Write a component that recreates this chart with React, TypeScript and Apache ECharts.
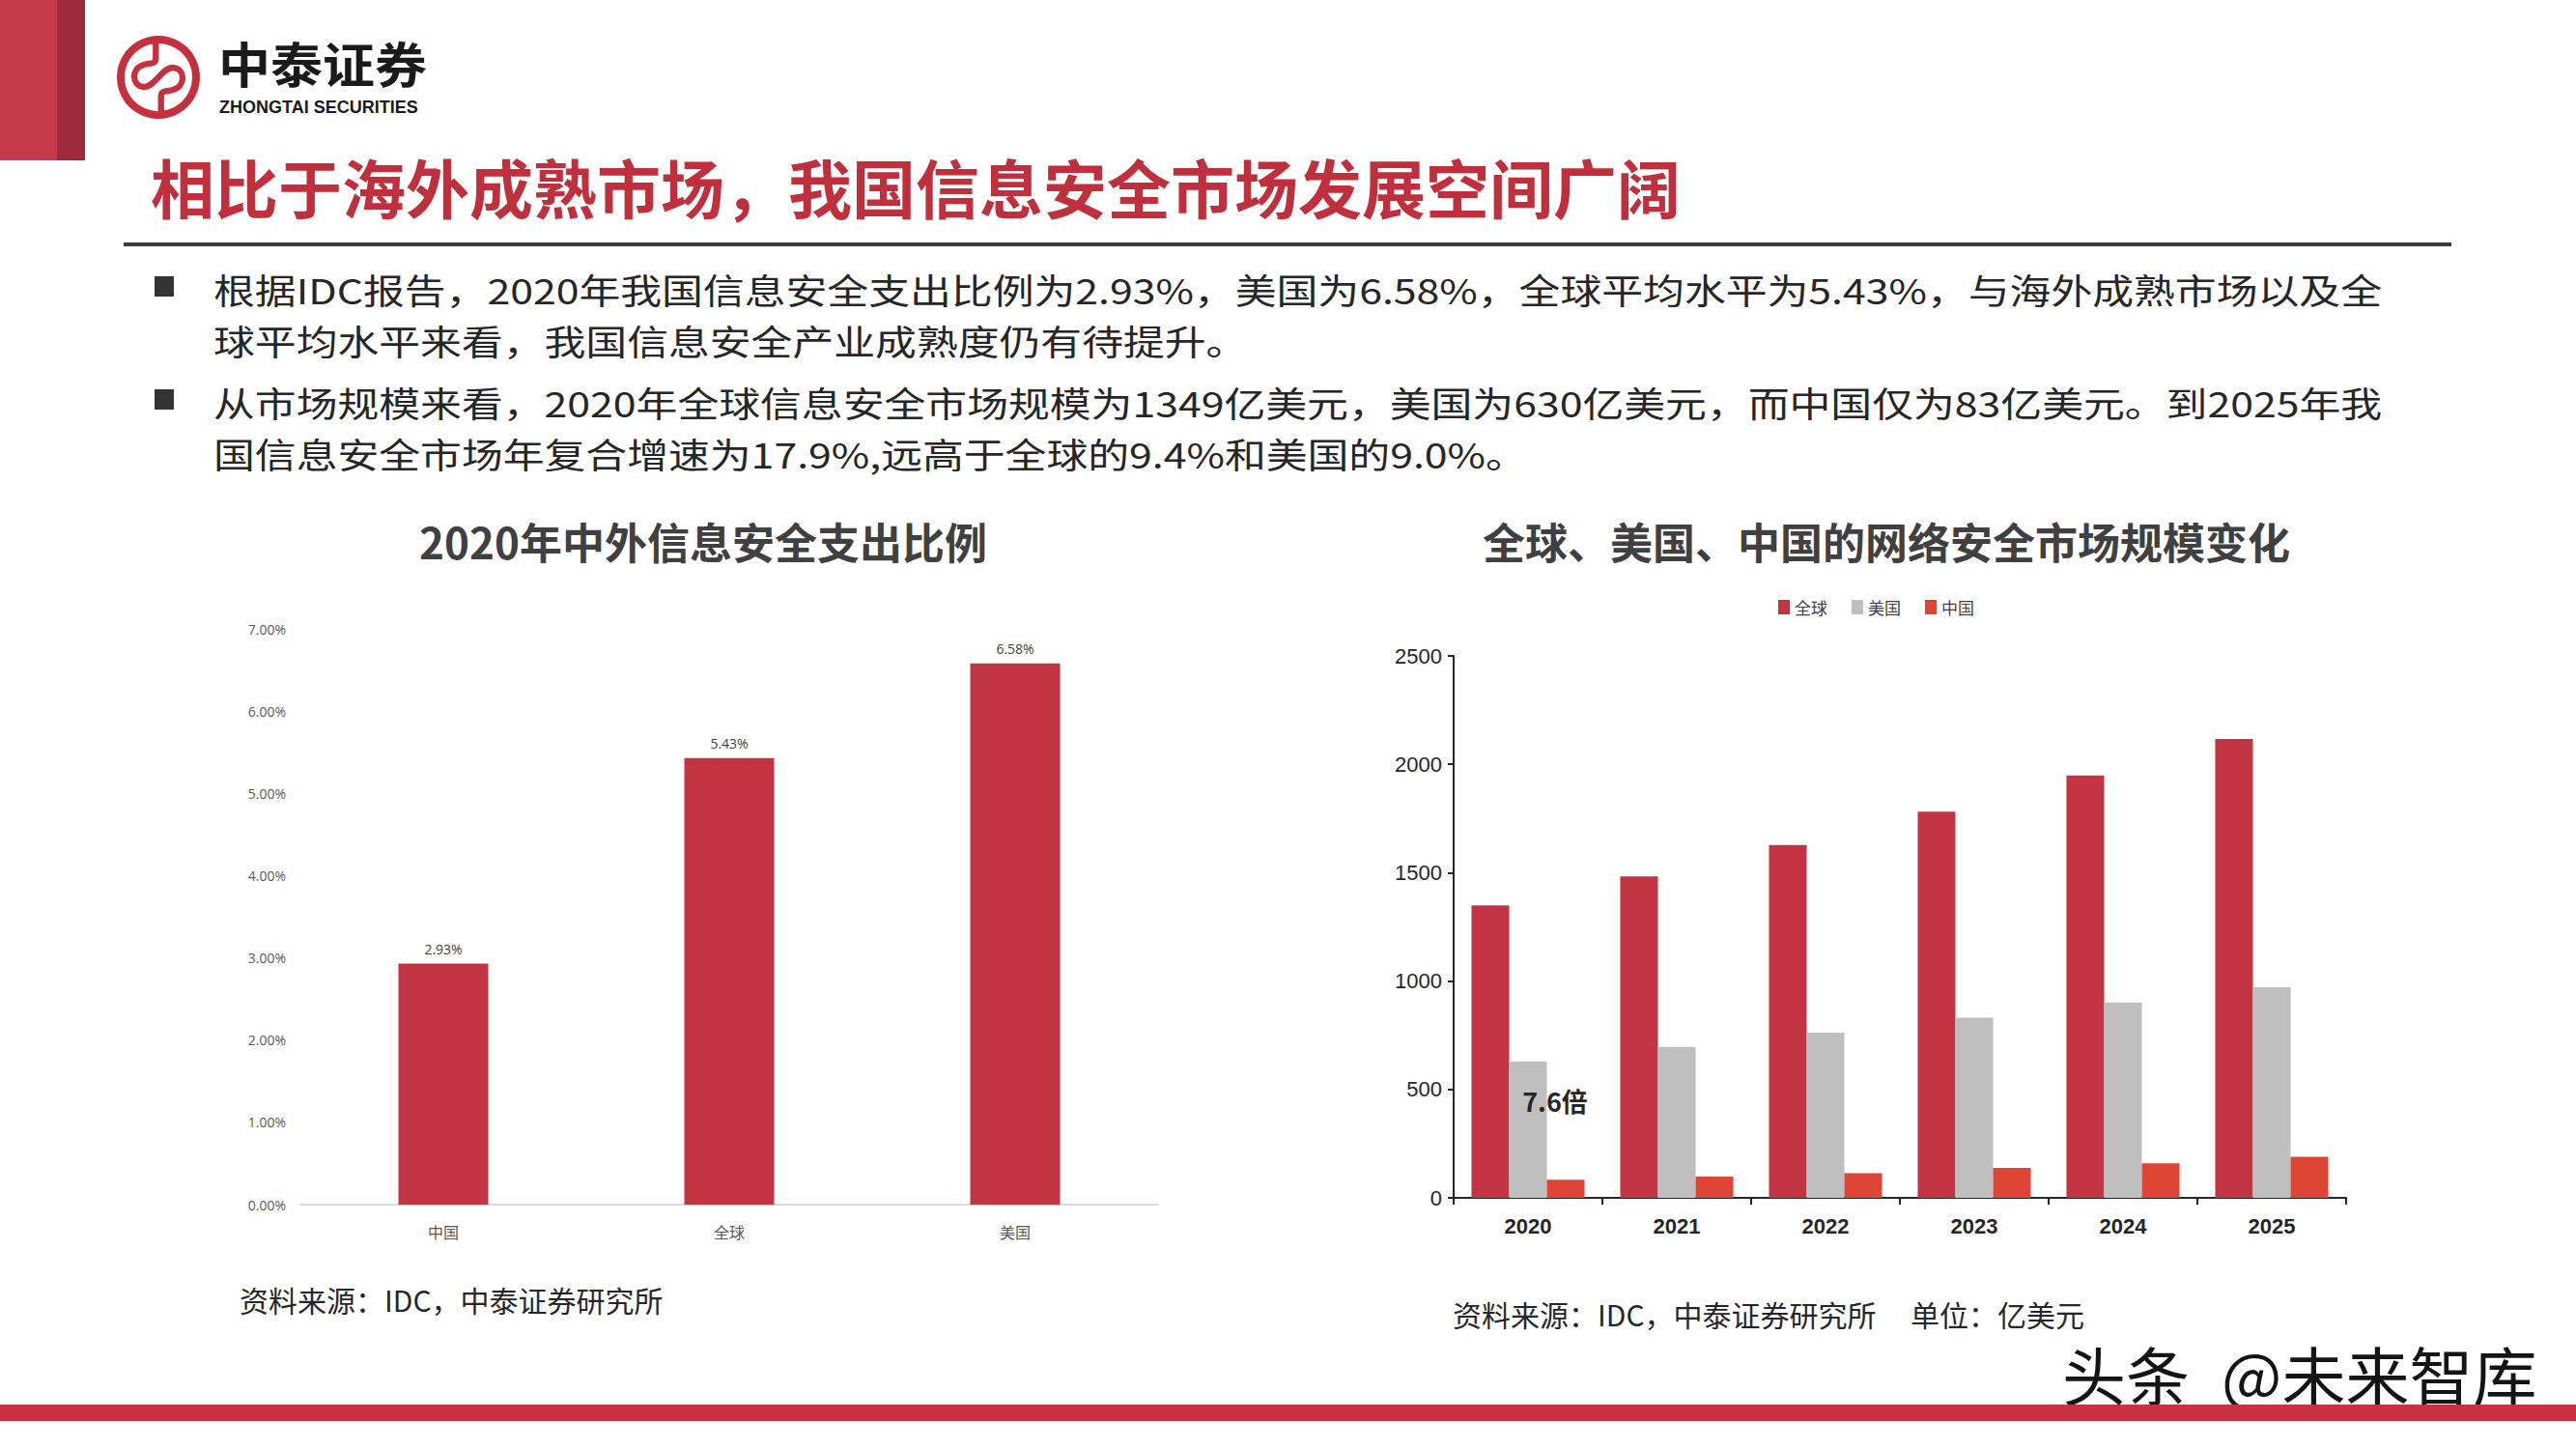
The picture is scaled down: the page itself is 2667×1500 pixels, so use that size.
import React, { useEffect, useRef } from "react";
import * as echarts from "echarts";

// ---- Data ----
const leftCategories = ["中国", "全球", "美国"];
const spendingRatio = [2.93, 5.43, 6.58];

const years = ["2020", "2021", "2022", "2023", "2024", "2025"];
const globalMarket = [1349, 1483, 1628, 1781, 1948, 2117];
const usMarket = [630, 696, 762, 831, 901, 971];
const chinaMarket = [83, 98, 114, 138, 159, 189];
const legendNames = ["全球", "美国", "中国"];

const pageTitle = "相比于海外成熟市场，我国信息安全市场发展空间广阔";
const bulletLines = [
  "根据IDC报告，2020年我国信息安全支出比例为2.93%，美国为6.58%，全球平均水平为5.43%，与海外成熟市场以及全",
  "球平均水平来看，我国信息安全产业成熟度仍有待提升。",
  "从市场规模来看，2020年全球信息安全市场规模为1349亿美元，美国为630亿美元，而中国仅为83亿美元。到2025年我",
  "国信息安全市场年复合增速为17.9%,远高于全球的9.4%和美国的9.0%。",
];
const leftTitle = "2020年中外信息安全支出比例";
const rightTitle = "全球、美国、中国的网络安全市场规模变化";
const sourceText = "资料来源：IDC，中泰证券研究所";
const unitText = "单位：亿美元";
const multipleNote = "7.6倍";

const CJK = "'Noto Sans CJK SC', 'Noto Sans', sans-serif";
const NARROW = "'Liberation Sans Narrow', 'Arial Narrow', 'Liberation Sans', sans-serif";

const RED = "#C23441";
const GRAY = "#BFBFBF";
const ORANGE = "#DF4535";

const logoPath =
  "M -3 -42 L -3 -22 C -3 -14 -10 -17 -18 -14 C -31 -10 -31 9 -18 11 C -10 12 -5 5 0 0 C 5 -5 10 -12 18 -11 C 31 -9 31 10 18 14 C 10 17 3 14 3 22 L 3 42";

export default function App() {
  const ref = useRef<HTMLDivElement>(null);

  useEffect(() => {
    document.body.style.margin = "0";
    if (!ref.current) return;
    try {
      echarts.graphic.registerShape("logo", echarts.graphic.extendPath(logoPath, {}) as any);
    } catch (e) {}
    const chart = echarts.init(ref.current, null, { renderer: "svg" });

    const graphics: any[] = [
      { type: "rect", shape: { x: 0, y: 0, width: 59, height: 166 }, style: { fill: "#C23A4C" } },
      { type: "rect", shape: { x: 59, y: 0, width: 29, height: 166 }, style: { fill: "#9C2A3A" } },
      { type: "circle", shape: { cx: 164, cy: 80, r: 39 }, style: { fill: "none", stroke: "#C5303C", lineWidth: 8 } },
      { type: "logo", x: 164, y: 80, scaleX: 0.9, scaleY: 0.9, style: { fill: "none", stroke: "#C5303C", lineWidth: 7 } },
      {
        type: "text", x: 226, y: 64, scaleX: 1.08,
        style: { text: "中泰证券", font: `bold 50px ${CJK}`, fill: "#1a1a1a", textVerticalAlign: "middle" },
      },
      {
        type: "text", x: 227, y: 111,
        style: { text: "ZHONGTAI SECURITIES", font: `bold 18px 'Liberation Sans', sans-serif`, fill: "#1a1a1a", textVerticalAlign: "middle" },
      },
      {
        type: "text", x: 156, y: 192,
        style: { text: pageTitle, font: `bold 66px ${CJK}`, fill: "#C0303C", textVerticalAlign: "middle" },
      },
      { type: "rect", shape: { x: 128, y: 251, width: 2410, height: 4 }, style: { fill: "#3F3F3F" } },
      { type: "rect", shape: { x: 160, y: 286, width: 20, height: 21 }, style: { fill: "#333" } },
      { type: "rect", shape: { x: 160, y: 403, width: 20, height: 21 }, style: { fill: "#333" } },
      ...bulletLines.map((t, i) => ({
        type: "text", x: 221, y: [299, 352, 416, 469][i], scaleX: 1.19,
        style: { text: t, font: `36px ${CJK}`, fill: "#262626", textVerticalAlign: "middle" },
      })),
      {
        type: "text", x: 728, y: 560,
        style: { text: leftTitle, font: `bold 44px ${CJK}`, fill: "#404040", textAlign: "center", textVerticalAlign: "middle" },
      },
      {
        type: "text", x: 1953, y: 560,
        style: { text: rightTitle, font: `bold 44px ${CJK}`, fill: "#404040", textAlign: "center", textVerticalAlign: "middle" },
      },
      {
        type: "text", x: 1610, y: 1139,
        style: { text: multipleNote, font: `bold 27px ${CJK}`, fill: "#262626", textAlign: "center", textVerticalAlign: "middle" },
      },
      {
        type: "text", x: 248, y: 1345,
        style: { text: sourceText, font: `30px ${CJK}`, fill: "#262626", textVerticalAlign: "middle" },
      },
      {
        type: "text", x: 1504, y: 1360,
        style: { text: sourceText, font: `30px ${CJK}`, fill: "#262626", textVerticalAlign: "middle" },
      },
      {
        type: "text", x: 1978, y: 1360,
        style: { text: unitText, font: `30px ${CJK}`, fill: "#262626", textVerticalAlign: "middle" },
      },
      {
        type: "text", x: 2135, y: 1421,
        style: { text: "头条", font: `66px ${CJK}`, fill: "#141414", stroke: "#ffffff", lineWidth: 2, textVerticalAlign: "middle" },
      },
      {
        type: "text", x: 2300, y: 1421,
        style: { text: "@未来智库", font: `66px ${CJK}`, fill: "#141414", stroke: "#ffffff", lineWidth: 2, textVerticalAlign: "middle" },
      },
      { type: "rect", shape: { x: 0, y: 1454, width: 2667, height: 17 }, style: { fill: "#C8323F" } },
    ].map((g) => ({ ...g, z: 100 }));

    chart.setOption({
      animation: false,
      backgroundColor: "#ffffff",
      legend: {
        data: legendNames,
        left: 1841,
        top: 620,
        itemWidth: 12,
        itemHeight: 15,
        itemGap: 25,
        icon: "rect",
        padding: 0,
        textStyle: { fontSize: 17, color: "#404040", fontFamily: CJK },
      },
      grid: [
        { left: 311, right: 1468, top: 651, bottom: 253, containLabel: false },
        { left: 1505, right: 238, top: 679, bottom: 260, containLabel: false },
      ],
      xAxis: [
        {
          type: "category", gridIndex: 0, data: leftCategories,
          axisLine: { lineStyle: { color: "#D9D9D9", width: 2 } },
          axisTick: { show: false },
          axisLabel: { fontSize: 16, color: "#595959", margin: 20, fontFamily: CJK },
        },
        {
          type: "category", gridIndex: 1, data: years,
          axisLine: { lineStyle: { color: "#262626", width: 2 } },
          axisTick: { show: true, length: 7, lineStyle: { color: "#262626", width: 2 } },
          axisLabel: { fontSize: 22, fontWeight: "bold", color: "#262626", margin: 18, fontFamily: NARROW },
        },
      ],
      yAxis: [
        {
          type: "value", gridIndex: 0, min: 0, max: 7, interval: 1,
          axisLine: { show: false }, axisTick: { show: false }, splitLine: { show: false },
          axisLabel: {
            fontSize: 14, color: "#595959", margin: 15, fontFamily: "'Open Sans', sans-serif",
            formatter: (v: number) => v.toFixed(2) + "%",
          },
        },
        {
          type: "value", gridIndex: 1, min: 0, max: 2500, interval: 500,
          axisLine: { show: true, lineStyle: { color: "#262626", width: 2 } },
          axisTick: { show: true, length: 6, lineStyle: { color: "#262626", width: 2 } },
          splitLine: { show: false },
          axisLabel: {
            fontSize: 22, color: "#262626", margin: 12, fontFamily: NARROW,
            formatter: (v: number) => String(v),
          },
        },
      ],
      series: [
        {
          name: "支出比例", type: "bar", xAxisIndex: 0, yAxisIndex: 0,
          data: spendingRatio, barWidth: 93, itemStyle: { color: RED },
          label: {
            show: true, position: "top", distance: 8, fontSize: 14, color: "#404040",
            fontFamily: "'Open Sans', sans-serif",
            formatter: (p: any) => Number(p.value).toFixed(2) + "%",
          },
        },
        {
          name: legendNames[0], type: "bar", xAxisIndex: 1, yAxisIndex: 1,
          data: globalMarket, itemStyle: { color: RED }, barGap: "0%", barCategoryGap: "24%",
        },
        {
          name: legendNames[1], type: "bar", xAxisIndex: 1, yAxisIndex: 1,
          data: usMarket, itemStyle: { color: GRAY }, barGap: "0%", barCategoryGap: "24%",
        },
        {
          name: legendNames[2], type: "bar", xAxisIndex: 1, yAxisIndex: 1,
          data: chinaMarket, itemStyle: { color: ORANGE }, barGap: "0%", barCategoryGap: "24%",
        },
      ],
      graphic: graphics,
    });

    return () => chart.dispose();
  }, []);

  return <div ref={ref} style={{ width: 2667, height: 1500 }} />;
}
